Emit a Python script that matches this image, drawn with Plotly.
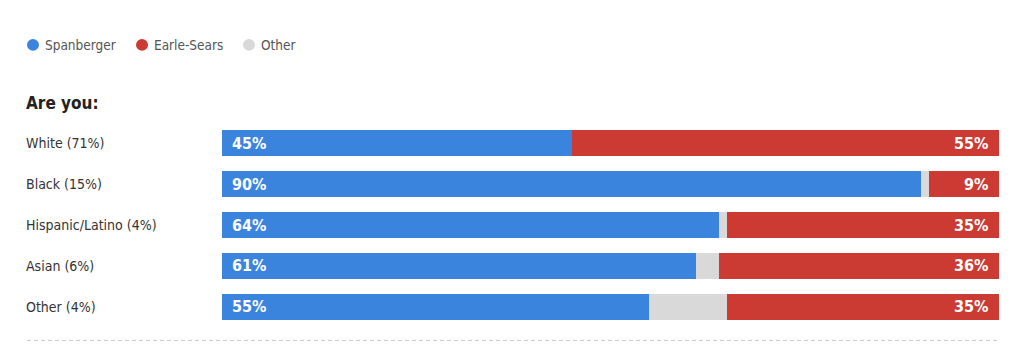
import plotly.graph_objects as go

categories = ["White (71%)", "Black (15%)", "Hispanic/Latino (4%)", "Asian (6%)", "Other (4%)"]
spanberger = [45, 90, 64, 61, 55]
other = [0, 1, 1, 3, 10]
earle_sears = [55, 9, 35, 36, 35]
series_names = ["Spanberger", "Earle-Sears", "Other"]
colors = {"Spanberger": "#3b84dd", "Earle-Sears": "#cb3b33", "Other": "#d9d9d9"}
title_text = "Are you:"

FONT = "DejaVu Sans Condensed, Liberation Sans Narrow, Roboto, sans-serif"

# page body has an 8px margin; work in figure coordinates (reference px - 8)
OFF = 8
W, H = 1024 - 2 * OFF, 362 - 2 * OFF
plot_left, plot_right = 222 - OFF, 999 - OFF
plot_top, plot_bottom = 122.5 - OFF, 327.5 - OFF
ml, mr, mt, mb = plot_left, W - plot_right, plot_top, H - plot_bottom
pw = plot_right - plot_left
ph = plot_bottom - plot_top


def px(xpix):
    return (xpix - OFF - plot_left) / pw


def py(ypix):
    return (plot_bottom - (ypix - OFF)) / ph


fig = go.Figure()
for name, vals in [("Spanberger", spanberger), ("Other", other), ("Earle-Sears", earle_sears)]:
    fig.add_trace(go.Bar(
        y=categories, x=vals, orientation="h", name=name,
        marker=dict(color=colors[name], line=dict(width=0)),
        showlegend=False, hovertemplate="%{y}: %{x}%<extra>" + name + "</extra>",
    ))

label_font = dict(color="white", size=16, family=FONT, weight="bold")
for c, s, e in zip(categories, spanberger, earle_sears):
    fig.add_annotation(x=0, y=c, xref="x", yref="y", text=f"{s}%", showarrow=False,
                       xanchor="left", yanchor="middle", xshift=8, font=label_font)
    fig.add_annotation(x=100, y=c, xref="x", yref="y", text=f"{e}%", showarrow=False,
                       xanchor="right", yanchor="middle", xshift=-9, font=label_font)

for c in categories:
    fig.add_annotation(
        x=px(24), xref="paper", y=c, yref="y", text=c,
        showarrow=False, xanchor="left", yanchor="middle",
        font=dict(size=14, color="#333333", family=FONT),
    )

fig.add_annotation(
    x=px(24), xref="paper", y=py(102), yref="paper",
    text=f"<b>{title_text}</b>", showarrow=False, xanchor="left", yanchor="middle",
    font=dict(size=17, color="#222222", family=FONT),
)

# legend (circles + labels)
legend_x = {"Spanberger": 33, "Earle-Sears": 142, "Other": 249}
r = 6
for n in series_names:
    cx = legend_x[n]
    fig.add_shape(type="circle", xref="paper", yref="paper",
                  x0=px(cx - r), x1=px(cx + r), y0=py(44 + r), y1=py(44 - r),
                  fillcolor=colors[n], line=dict(width=0))
    fig.add_annotation(x=px(cx + 10), xref="paper", y=py(44), yref="paper", text=n,
                       showarrow=False, xanchor="left", yanchor="middle",
                       font=dict(size=13.5, color="#555555", family=FONT))

fig.add_shape(
    type="line", xref="paper", yref="paper",
    x0=px(27), x1=1, y0=py(341), y1=py(341),
    line=dict(color="#cccccc", width=1, dash="4px,3px"),
)

fig.update_layout(
    width=W, height=H,
    margin=dict(l=ml, r=mr, t=mt, b=mb),
    barmode="stack", bargap=0.366,
    plot_bgcolor="white", paper_bgcolor="white",
    xaxis=dict(range=[0, 100], visible=False, fixedrange=True),
    yaxis=dict(autorange="reversed", showticklabels=False, showgrid=False,
               zeroline=False, fixedrange=True),
    showlegend=False,
    font=dict(family=FONT),
)

fig.write_html("out.html")
